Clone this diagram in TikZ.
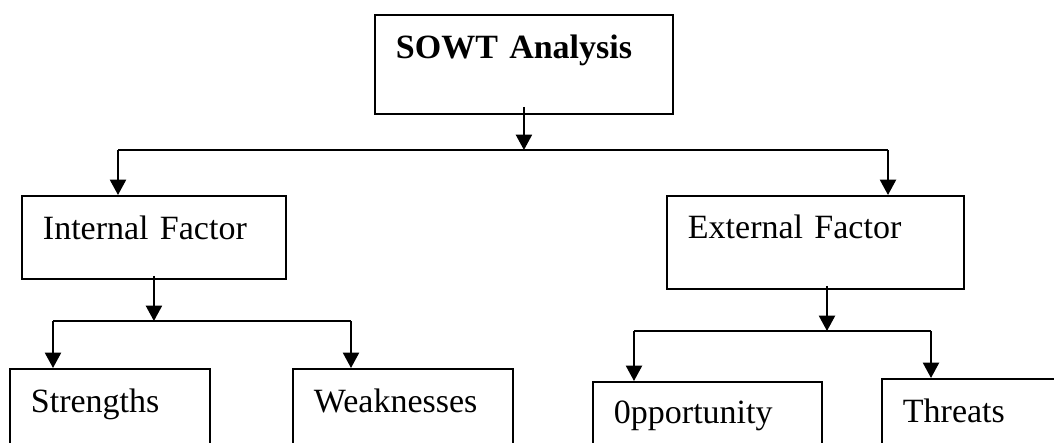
\documentclass[tikz,border=0pt]{standalone}
\usepackage{fontspec}
\setmainfont{Liberation Serif}
\usetikzlibrary{arrows.meta,calc}
\newlength{\px}
\setlength{\px}{0.75pt}

\begin{document}
\begin{tikzpicture}[x=0.75pt,y=-0.75pt,
	box/.style={draw, line width=1.4pt, anchor=north west, inner sep=0pt, align=left,
		font=\fontsize{25.5}{30}\selectfont, text height=44*\px,
		execute at begin node=\hspace*{21\px}},
	arr/.style={line width=1.6pt, -{Triangle[length=11.5pt,width=12pt]}},
	bar/.style={line width=1.6pt}]
	\useasboundingbox (0,0) rectangle (1054,443);
	\clip (0,0) rectangle (1054,443);
	% boxes
	\node[box, text width=298*\px, text depth=55*\px, font=\fontsize{25.5}{30}\selectfont\bfseries] (sowt) at (374,14) {SOWT Analysis};
	\node[box, text width=264*\px, text depth=39*\px] (int) at (21,195) {Internal Factor};
	\node[box, text width=297*\px, text height=43*\px, text depth=50*\px] (ext) at (666,195) {External Factor};
	\node[box, text width=200*\px, text depth=58*\px] (str) at (9,368) {Strengths};
	\node[box, text width=220*\px, text depth=58*\px] (weak) at (292,368) {Weaknesses};
	\node[box, text width=229*\px, text height=42*\px, text depth=47*\px] (opp) at (592,381) {0pportunity};
	\node[box, text width=200*\px, text depth=48*\px] (thr) at (881,378) {Threats};
	% top level
	\coordinate (ba) at (118,150);
	\coordinate (bb) at (888,150);
	\draw[bar] (ba) -- (bb);
	\draw[arr] ($(sowt.south)+(0,-8)$) -- (sowt.south |- ba);
	\draw[arr] (ba) -- (ba |- int.north);
	\draw[arr] (bb) -- (bb |- ext.north);
	% internal
	\coordinate (ia) at (53,321);
	\coordinate (ib) at (351,321);
	\draw[bar] (ia) -- (ib);
	\draw[arr] ($(int.south)+(0,-4)$) -- (int.south |- ia);
	\draw[arr] (ia) -- (ia |- str.north);
	\draw[arr] (ib) -- (ib |- weak.north);
	% external
	\coordinate (ea) at (634,331);
	\coordinate (eb) at (931,331);
	\coordinate (em) at (827,331);
	\draw[bar] (ea) -- (eb);
	\draw[arr] ($(ext.south -| em)+(0,-4)$) -- (em);
	\draw[arr] (ea) -- (ea |- opp.north);
	\draw[arr] (eb) -- (eb |- thr.north);
\end{tikzpicture}
\end{document}
